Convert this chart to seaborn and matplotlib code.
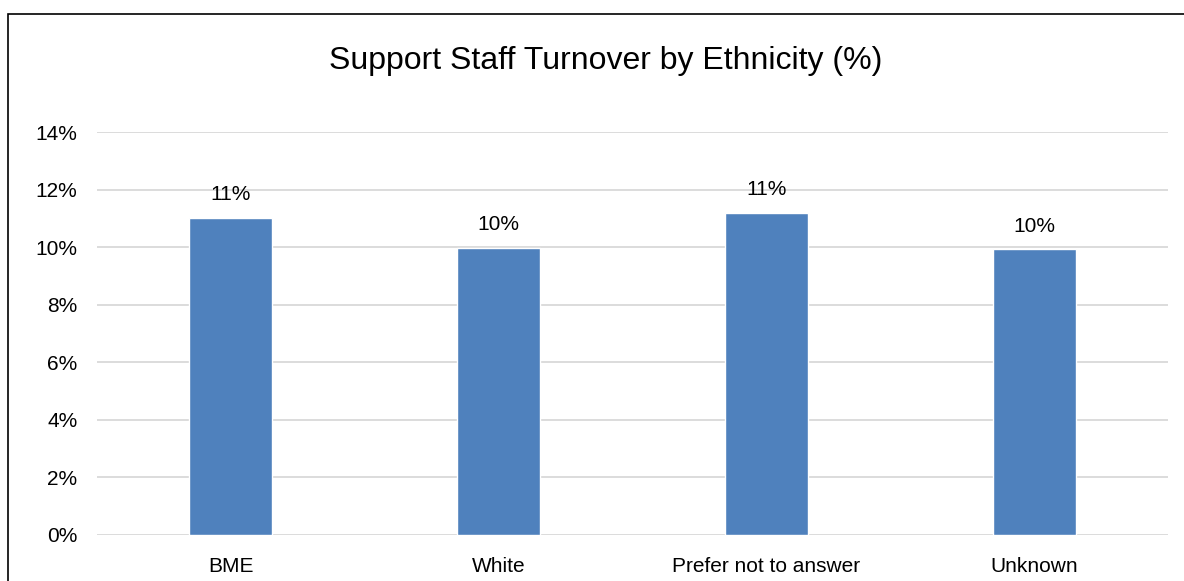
import matplotlib
matplotlib.use("Agg")
import matplotlib.pyplot as plt
from matplotlib.patches import Rectangle
from matplotlib.ticker import FuncFormatter
import seaborn as sns
import pandas as pd

# Support staff turnover by ethnicity (fraction of staff)
categories = ["BME", "White", "Prefer not to answer", "Unknown"]
turnover = [0.110, 0.0997, 0.112, 0.0992]
y_ticks = [0.00, 0.02, 0.04, 0.06, 0.08, 0.10, 0.12, 0.14]

sns.set_theme(style="white")
plt.rcParams["font.family"] = ["Liberation Sans", "DejaVu Sans"]

df = pd.DataFrame({"group": categories, "rate": turnover})

fig = plt.figure(figsize=(11.84, 5.81), dpi=100)
ax = fig.add_axes([97 / 1184, 46 / 581, (1168 - 97) / 1184, (535 - 132) / 581])

sns.barplot(data=df, x="group", y="rate", color="#4f81bd", saturation=1,
            width=0.31, ax=ax, zorder=3)

ax.set_ylim(0, 0.14)
ax.set_yticks(y_ticks)
ax.yaxis.set_major_formatter(FuncFormatter(lambda v, _: f"{v * 100:.0f}%"))
ax.set_xlim(-0.5, len(categories) - 0.5)
ax.grid(axis="y", color="#d9d9d9", linewidth=1.3, zorder=0)
ax.set_axisbelow(True)
for s in ax.spines.values():
    s.set_visible(False)
ax.set_xlabel("")
ax.set_ylabel("")
ax.tick_params(axis="y", length=0, pad=14, labelsize=15, colors="black")
ax.tick_params(axis="x", length=0, pad=16, labelsize=15, colors="black")

labels = [f"{v * 100:.0f}%" for v in turnover]
ax.bar_label(ax.containers[0], labels=labels, padding=10, fontsize=15, color="black")

fig.text(606 / 1184, 1 - 61 / 581, "Support Staff Turnover by Ethnicity (%)",
         ha="center", va="center", fontsize=23, color="black")

# Chart frame (only its left and top edges fall inside the image)
fig.patches.append(Rectangle((8 / 1184, -0.1), 1.2, 1 - 14 / 581 + 0.1,
                             transform=fig.transFigure, fill=False,
                             edgecolor="black", linewidth=1.2))

fig.savefig("out.png", dpi=100)
